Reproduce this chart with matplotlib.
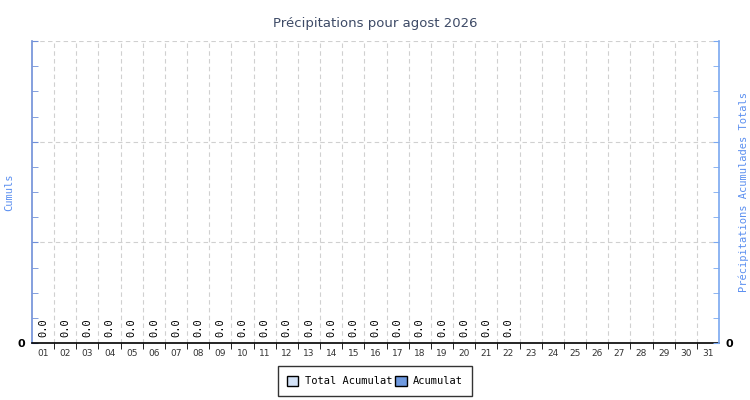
import numpy as np
import matplotlib
matplotlib.use("Agg")
import matplotlib.pyplot as plt
from matplotlib.patches import Patch

# Data
days = [f"{d:02d}" for d in range(1, 32)]
acumulat = [0.0] * 22            # daily rain, days 01-22
total_acumulat = [0.0] * 22      # running total, days 01-22
title = "Précipitations pour agost 2026"

fig = plt.figure(figsize=(7.5, 4), dpi=100)
ax = fig.add_axes([32 / 750, 1 - 343 / 400, 687 / 750, 302 / 400])

x = np.arange(len(days))
n = len(acumulat)
ax.bar(x[:n], total_acumulat, width=0.8, color="#d3e2f7", edgecolor="black", linewidth=0.6)
ax.bar(x[:n], acumulat, width=0.8, color="#6f9ae0", edgecolor="black", linewidth=0.6)

for xi, v in zip(x[:n], acumulat):
    ax.annotate(f"{v:.1f}", (xi, v), xytext=(0, 4), textcoords="offset points",
                rotation=90, ha="center", va="bottom", fontsize=7.5,
                family="DejaVu Sans Mono")

ax.set_xlim(-0.5, len(days) - 0.5)
ax.set_ylim(0, 12)

# category labels centered, ticks/grid on cell boundaries
ax.set_xticks(x)
ax.set_xticklabels(days, fontsize=6.5, family="DejaVu Sans")
ax.tick_params(axis="x", which="major", length=0, pad=4, colors="#333333")
ax.set_xticks(np.arange(0.5, len(days) - 0.5, 1), minor=True)
ax.tick_params(axis="x", which="minor", length=4, direction="out", color="black")
ax.grid(axis="x", which="minor", linestyle=(0, (4, 3)), color="#d0d0d0", linewidth=0.8)

ax.set_yticks([0, 4, 8, 12])
ax.set_yticklabels(["0", "", "", ""], fontsize=8, fontweight="bold")
ax.set_yticks(np.arange(0, 13, 1), minor=True)
ax.tick_params(axis="y", which="both", direction="in", length=4, color="#6f8fd8")
ax.tick_params(axis="y", which="major", pad=5)
ax.grid(axis="y", which="major", linestyle=(0, (4, 3)), color="#d0d0d0", linewidth=0.8)
ax.set_axisbelow(True)

ax.spines["top"].set_visible(False)
ax.spines["right"].set_visible(False)
ax.spines["left"].set_color("#6f8fd8")
ax.spines["left"].set_linewidth(1.2)
ax.spines["bottom"].set_color("black")
ax.spines["bottom"].set_linewidth(1.2)

ax2 = ax.twinx()
ax2.set_ylim(0, 12)
ax2.set_yticks([0, 4, 8, 12])
ax2.set_yticklabels(["0", "", "", ""], fontsize=8, fontweight="bold")
ax2.set_yticks(np.arange(0, 13, 1), minor=True)
ax2.tick_params(axis="y", which="both", direction="in", length=4, color="#7aa8f0")
ax2.tick_params(axis="y", which="major", pad=5)
for s in ["top", "left", "bottom"]:
    ax2.spines[s].set_visible(False)
ax2.spines["right"].set_color("#7aa8f0")
ax2.spines["right"].set_linewidth(1.2)

# axis titles placed in figure coordinates
fig.text(9 / 750, 1 - 192 / 400, "Cumuls", rotation=90, ha="center", va="center",
         color="#5b8ff0", fontsize=7.5, family="DejaVu Sans Mono")
fig.text(744 / 750, 1 - 192 / 400, "Précipitations Acumulades Totals", rotation=90,
         ha="center", va="center", color="#5b8ff0", fontsize=7.5, family="DejaVu Sans Mono")

fig.text(0.5, 1 - 24 / 400, title, ha="center", va="center", fontsize=9.5,
         color="#3d4a66")

handles = [Patch(facecolor="#d3e2f7", edgecolor="black", label="Total Acumulat"),
           Patch(facecolor="#6f9ae0", edgecolor="black", label="Acumulat")]
leg = fig.legend(handles=handles, loc="center", bbox_to_anchor=(375 / 750, 1 - 381 / 400),
                 ncol=2, frameon=True, fancybox=False, edgecolor="black",
                 prop={"family": "DejaVu Sans Mono", "size": 7.5},
                 handlelength=1.1, handleheight=1.1, handletextpad=0.6, columnspacing=0.3,
                 borderpad=0.9)
leg.get_frame().set_linewidth(1.0)

fig.savefig("out.png", dpi=100)
